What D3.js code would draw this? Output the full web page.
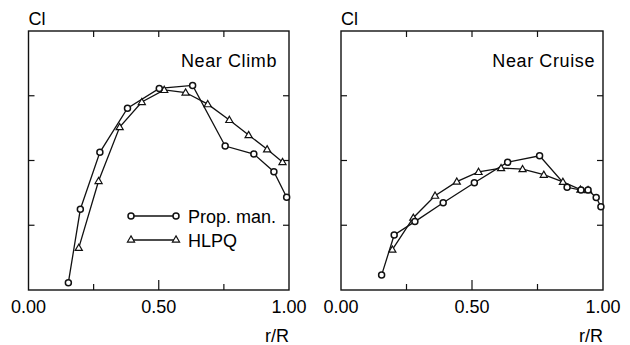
<!DOCTYPE html>
<html>
<head>
<meta charset="utf-8">
<script src="https://cdn.jsdelivr.net/npm/d3@7"></script>
<style>
  body { margin: 0; background: #fff; }
  text { font-family: "Liberation Sans", Arial, Helvetica, sans-serif; fill: #000; }
</style>
</head>
<body>
<script>
/* Cl distribution vs r/R, two panels: near climb / near cruise */

// near climb
const climbPropR  = [0.153, 0.199, 0.274, 0.380, 0.502, 0.630, 0.755, 0.865, 0.942, 0.991];
const climbPropCl = [0.034, 0.374, 0.638, 0.842, 0.934, 0.948, 0.667, 0.630, 0.548, 0.430];
const climbHlpqR  = [0.193, 0.269, 0.350, 0.435, 0.521, 0.603, 0.688, 0.771, 0.845, 0.916, 0.975];
const climbHlpqCl = [0.195, 0.505, 0.755, 0.871, 0.927, 0.915, 0.861, 0.788, 0.718, 0.652, 0.593];

// near cruise
const cruisePropR  = [0.155, 0.203, 0.282, 0.390, 0.509, 0.636, 0.758, 0.863, 0.916, 0.943, 0.974, 0.992];
const cruisePropCl = [0.069, 0.255, 0.317, 0.404, 0.497, 0.592, 0.622, 0.476, 0.463, 0.463, 0.429, 0.386];
const cruiseHlpqR  = [0.196, 0.276, 0.359, 0.442, 0.525, 0.611, 0.693, 0.774, 0.847, 0.914, 0.943];
const cruiseHlpqCl = [0.187, 0.335, 0.437, 0.502, 0.547, 0.565, 0.560, 0.534, 0.501, 0.465, 0.463];

const xLabels = [0, 0.5, 1];
const xTicks = [0.25, 0.5, 0.75];
const yTicks = [0.3, 0.6, 0.9];
const legendNames = ["Prop. man.", "HLPQ"];

const width = 630, height = 345;
const plotTop = 31, plotBottom = 290;

const svg = d3.select("body").append("svg")
  .attr("width", width)
  .attr("height", height);

const panels = [
  { title: "Near Climb", x0: 28.5, x1: 289, titleX: 277, legend: true,
    prop: d3.zip(climbPropR, climbPropCl), hlpq: d3.zip(climbHlpqR, climbHlpqCl) },
  { title: "Near Cruise", x0: 341, x1: 603, titleX: 595, legend: false,
    prop: d3.zip(cruisePropR, cruisePropCl), hlpq: d3.zip(cruiseHlpqR, cruiseHlpqCl) }
];

const tri = d3.symbol().type(d3.symbolTriangle).size(22);

panels.forEach(p => {
  const x = d3.scaleLinear().domain([0, 1]).range([p.x0, p.x1]);
  const y = d3.scaleLinear().domain([0, 1.2]).range([plotBottom, plotTop]);
  const g = svg.append("g");

  // frame
  g.append("rect")
    .attr("x", x(0)).attr("y", y(1.2))
    .attr("width", x(1) - x(0)).attr("height", y(0) - y(1.2))
    .attr("fill", "none").attr("stroke", "#111").attr("stroke-width", 1.4);

  // inward ticks, all four sides
  xTicks.forEach(t => {
    const len = t === 0.5 ? 10 : 6;
    g.append("line").attr("x1", x(t)).attr("x2", x(t))
      .attr("y1", y(0)).attr("y2", y(0) - len)
      .attr("stroke", "#111").attr("stroke-width", 1.2);
    g.append("line").attr("x1", x(t)).attr("x2", x(t))
      .attr("y1", y(1.2)).attr("y2", y(1.2) + 6)
      .attr("stroke", "#111").attr("stroke-width", 1.2);
  });
  yTicks.forEach(t => {
    g.append("line").attr("x1", x(0)).attr("x2", x(0) + 6)
      .attr("y1", y(t)).attr("y2", y(t))
      .attr("stroke", "#111").attr("stroke-width", 1.2);
    g.append("line").attr("x1", x(1)).attr("x2", x(1) - 6)
      .attr("y1", y(t)).attr("y2", y(t))
      .attr("stroke", "#111").attr("stroke-width", 1.2);
  });

  // tick labels
  g.selectAll(".xl").data(xLabels).enter().append("text")
    .attr("x", d => x(d)).attr("y", 313)
    .attr("text-anchor", "middle").attr("font-size", 18)
    .text(d3.format(".2f"));

  g.append("text").attr("x", x(1)).attr("y", 342)
    .attr("text-anchor", "end").attr("font-size", 18).text("r/R");
  g.append("text").attr("x", x(0)).attr("y", 25)
    .attr("font-size", 18).text("Cl");
  g.append("text").attr("x", p.titleX).attr("y", 67)
    .attr("text-anchor", "end").attr("font-size", 18)
    .attr("letter-spacing", 0.6).text(p.title);

  const line = d3.line().x(d => x(d[0])).y(d => y(d[1]));

  g.append("path").datum(p.hlpq).attr("d", line)
    .attr("fill", "none").attr("stroke", "#111").attr("stroke-width", 1.3);
  g.append("path").datum(p.prop).attr("d", line)
    .attr("fill", "none").attr("stroke", "#111").attr("stroke-width", 1.3);

  g.selectAll(".tri").data(p.hlpq).enter().append("path")
    .attr("d", tri)
    .attr("transform", d => `translate(${x(d[0])},${y(d[1]) + 0.5})`)
    .attr("fill", "#fff").attr("stroke", "#111").attr("stroke-width", 1.2);
  g.selectAll(".cir").data(p.prop).enter().append("circle")
    .attr("cx", d => x(d[0])).attr("cy", d => y(d[1])).attr("r", 3)
    .attr("fill", "#fff").attr("stroke", "#111").attr("stroke-width", 1.5);

  if (p.legend) {
    const lg = svg.append("g");
    legendNames.forEach((name, i) => {
      const ly = 216 + i * 24;
      lg.append("line").attr("x1", 131).attr("x2", 176)
        .attr("y1", ly).attr("y2", ly)
        .attr("stroke", "#111").attr("stroke-width", 1.3);
      [131, 176].forEach(lx => {
        if (i === 0) {
          lg.append("circle").attr("cx", lx).attr("cy", ly).attr("r", 3)
            .attr("fill", "#fff").attr("stroke", "#111").attr("stroke-width", 1.5);
        } else {
          lg.append("path").attr("d", tri)
            .attr("transform", `translate(${lx},${ly})`)
            .attr("fill", "#fff").attr("stroke", "#111").attr("stroke-width", 1.2);
        }
      });
      lg.append("text").attr("x", 188).attr("y", ly + 6.5)
        .attr("font-size", 18).text(name);
    });
  }
});
</script>
</body>
</html>
